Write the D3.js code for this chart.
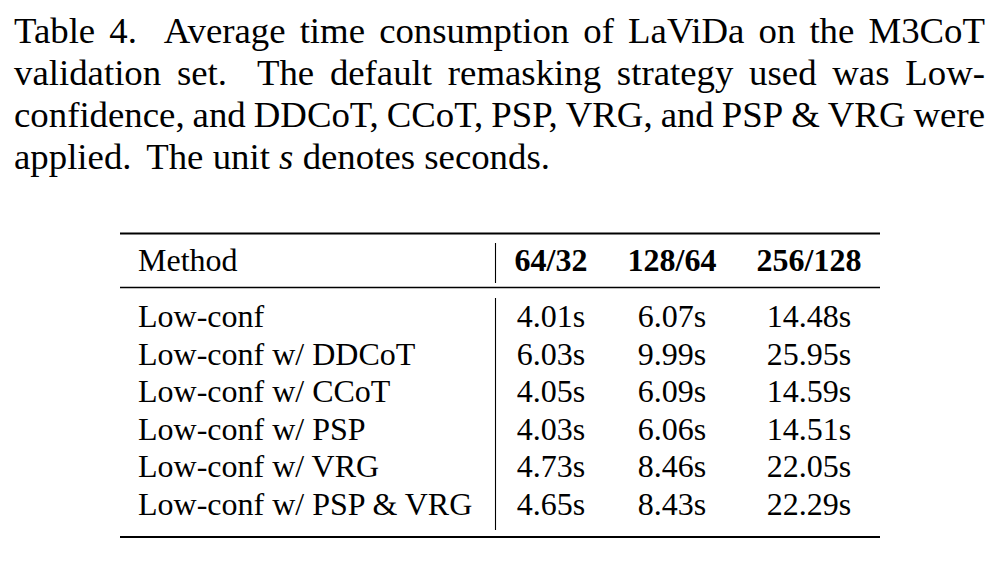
<!DOCTYPE html>
<html>
<head>
<meta charset="utf-8">
<script src="https://cdn.jsdelivr.net/npm/d3@7"></script>
<style>
  body { margin: 0; background: #fff; }
  text { font-family: "Liberation Serif", "Times New Roman", serif; fill: #000; }
</style>
</head>
<body>
<div id="table-container"></div>
<script>
const captionLines = [
  "Table 4.  Average time consumption of LaViDa on the M3CoT",
  "validation set.  The default remasking strategy used was Low-",
  "confidence, and DDCoT, CCoT, PSP, VRG, and PSP & VRG were",
  "applied.  The unit |s| denotes seconds."
];
const methodHeader = "Method";
const settings = ["64/32", "128/64", "256/128"];
const methods = [
  "Low-conf",
  "Low-conf w/ DDCoT",
  "Low-conf w/ CCoT",
  "Low-conf w/ PSP",
  "Low-conf w/ VRG",
  "Low-conf w/ PSP & VRG"
];
const times64 = [4.01, 6.03, 4.05, 4.03, 4.73, 4.65];
const times128 = [6.07, 9.99, 6.09, 6.06, 8.46, 8.43];
const times256 = [14.48, 25.95, 14.59, 14.51, 22.05, 22.29];

const width = 999, height = 563;
const capLeft = 14, capRight = 985, capSize = 36.8;

const svg = d3.select("#table-container").append("svg")
  .attr("width", width).attr("height", height);

// caption, justified word by word like the LaTeX paragraph
const capY = d3.scalePoint().domain(d3.range(captionLines.length)).range([43, 169]);

captionLines.forEach((line, li) => {
  const words = line.split(/ +/);
  const gaps = [];
  line.replace(/ +/g, m => { gaps.push(m.length); return m; });
  const g = svg.append("g");
  const nodes = words.map(w => {
    const italic = w.startsWith("|");
    return g.append("text")
      .attr("y", capY(li))
      .attr("font-size", capSize)
      .attr("font-style", italic ? "italic" : null)
      .text(w.replace(/\|/g, ""));
  });
  const widths = nodes.map(n => n.node().getComputedTextLength());
  const space = capSize * 0.25;
  const last = li === captionLines.length - 1;
  let gapW;
  if (last) {
    gapW = gaps.map(n => n > 1 ? space * 1.6 : space);
  } else {
    const total = d3.sum(widths);
    const weights = gaps.map(n => n > 1 ? 1.9 : 1);
    const unit = (capRight - capLeft - total) / d3.sum(weights);
    gapW = weights.map(w => w * unit);
  }
  let x = capLeft;
  nodes.forEach((n, i) => {
    n.attr("x", x);
    x += widths[i] + (gapW[i] || 0);
  });
});

// table
const fs = 32;
const ruleLeft = 120, ruleRight = 880, sepX = 495.5;
const colX = d3.scaleOrdinal().domain(settings).range([551, 672, 809]);
const rowY = d3.scalePoint().domain(methods).range([327, 515]);
const headerY = 271;

const rows = methods.map((m, i) => ({
  method: m,
  vals: [times64[i], times128[i], times256[i]]
}));

svg.append("line").attr("x1", ruleLeft).attr("x2", ruleRight)
  .attr("y1", 233.5).attr("y2", 233.5).attr("stroke", "#000").attr("stroke-width", 2);
svg.append("line").attr("x1", ruleLeft).attr("x2", ruleRight)
  .attr("y1", 287.5).attr("y2", 287.5).attr("stroke", "#000").attr("stroke-width", 1.3);
svg.append("line").attr("x1", ruleLeft).attr("x2", ruleRight)
  .attr("y1", 537).attr("y2", 537).attr("stroke", "#000").attr("stroke-width", 2);

svg.append("line").attr("x1", sepX).attr("x2", sepX)
  .attr("y1", 243).attr("y2", 283).attr("stroke", "#000").attr("stroke-width", 1.1);
svg.append("line").attr("x1", sepX).attr("x2", sepX)
  .attr("y1", 298).attr("y2", 530).attr("stroke", "#000").attr("stroke-width", 1.1);

svg.append("text")
  .attr("x", 138).attr("y", headerY)
  .attr("font-size", fs)
  .text(methodHeader);

svg.selectAll(".col-head")
  .data(settings)
  .enter()
  .append("text")
  .attr("class", "col-head")
  .attr("x", d => colX(d))
  .attr("y", headerY)
  .attr("text-anchor", "middle")
  .attr("font-size", fs)
  .attr("font-weight", "bold")
  .text(d => d);

svg.selectAll(".method")
  .data(rows)
  .enter()
  .append("text")
  .attr("class", "method")
  .attr("x", 138)
  .attr("y", d => rowY(d.method))
  .attr("font-size", fs)
  .text(d => d.method);

const fmt = d3.format(".2f");
rows.forEach(r => {
  svg.selectAll(null)
    .data(r.vals)
    .enter()
    .append("text")
    .attr("x", (d, i) => colX(settings[i]))
    .attr("y", rowY(r.method))
    .attr("text-anchor", "middle")
    .attr("font-size", fs)
    .text(d => fmt(d) + "s");
});
</script>
</body>
</html>
